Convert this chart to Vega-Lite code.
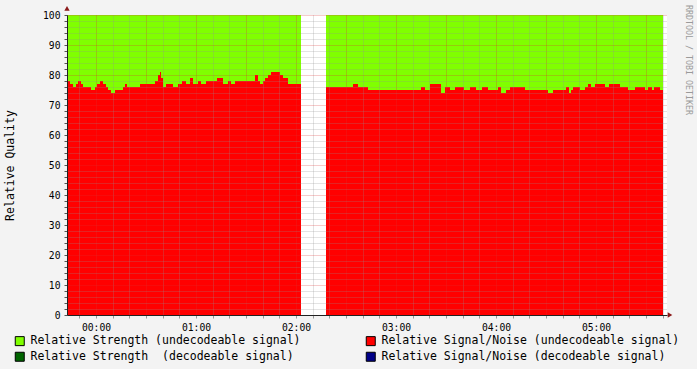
{
  "$schema": "https://vega.github.io/schema/vega-lite/v6.json",
  "width": 600,
  "height": 300,
  "autosize": {"type": "none"},
  "padding": {"left": 67, "top": 15, "right": 30, "bottom": 54},
  "background": "#f3f3f3",
  "view": {"fill": "#ffffff", "stroke": null},
  "config": {"font": "DejaVu Sans Mono"},
  "title": {"text": "RRDTOOL / TOBI OETIKER", "orient": "right", "anchor": "start", "frame": "group", "font": "DejaVu Sans Mono", "fontSize": 8.3, "fontWeight": "normal", "color": "#9a9a9a", "offset": 5, "dx": -10},
  "data": {"values": [
    {"time": "2024-01-01T23:42:36Z", "seg": 1, "strength": 100, "snr": 78},
    {"time": "2024-01-01T23:44:24Z", "seg": 1, "strength": 100, "snr": 77},
    {"time": "2024-01-01T23:46:12Z", "seg": 1, "strength": 100, "snr": 76},
    {"time": "2024-01-01T23:48:00Z", "seg": 1, "strength": 100, "snr": 77},
    {"time": "2024-01-01T23:49:12Z", "seg": 1, "strength": 100, "snr": 78},
    {"time": "2024-01-01T23:51:00Z", "seg": 1, "strength": 100, "snr": 77},
    {"time": "2024-01-01T23:52:12Z", "seg": 1, "strength": 100, "snr": 76},
    {"time": "2024-01-01T23:57:00Z", "seg": 1, "strength": 100, "snr": 75},
    {"time": "2024-01-01T23:59:24Z", "seg": 1, "strength": 100, "snr": 76},
    {"time": "2024-01-02T00:00:36Z", "seg": 1, "strength": 100, "snr": 77},
    {"time": "2024-01-02T00:02:24Z", "seg": 1, "strength": 100, "snr": 78},
    {"time": "2024-01-02T00:04:12Z", "seg": 1, "strength": 100, "snr": 77},
    {"time": "2024-01-02T00:06:00Z", "seg": 1, "strength": 100, "snr": 76},
    {"time": "2024-01-02T00:07:12Z", "seg": 1, "strength": 100, "snr": 75},
    {"time": "2024-01-02T00:09:00Z", "seg": 1, "strength": 100, "snr": 74},
    {"time": "2024-01-02T00:11:24Z", "seg": 1, "strength": 100, "snr": 75},
    {"time": "2024-01-02T00:16:12Z", "seg": 1, "strength": 100, "snr": 76},
    {"time": "2024-01-02T00:17:24Z", "seg": 1, "strength": 100, "snr": 77},
    {"time": "2024-01-02T00:18:36Z", "seg": 1, "strength": 100, "snr": 76},
    {"time": "2024-01-02T00:26:24Z", "seg": 1, "strength": 100, "snr": 77},
    {"time": "2024-01-02T00:35:24Z", "seg": 1, "strength": 100, "snr": 78},
    {"time": "2024-01-02T00:37:12Z", "seg": 1, "strength": 100, "snr": 80},
    {"time": "2024-01-02T00:38:24Z", "seg": 1, "strength": 100, "snr": 81},
    {"time": "2024-01-02T00:39:00Z", "seg": 1, "strength": 100, "snr": 79},
    {"time": "2024-01-02T00:40:12Z", "seg": 1, "strength": 100, "snr": 76},
    {"time": "2024-01-02T00:42:00Z", "seg": 1, "strength": 100, "snr": 77},
    {"time": "2024-01-02T00:46:12Z", "seg": 1, "strength": 100, "snr": 76},
    {"time": "2024-01-02T00:49:12Z", "seg": 1, "strength": 100, "snr": 77},
    {"time": "2024-01-02T00:51:36Z", "seg": 1, "strength": 100, "snr": 78},
    {"time": "2024-01-02T00:54:00Z", "seg": 1, "strength": 100, "snr": 77},
    {"time": "2024-01-02T00:56:24Z", "seg": 1, "strength": 100, "snr": 79},
    {"time": "2024-01-02T00:58:12Z", "seg": 1, "strength": 100, "snr": 77},
    {"time": "2024-01-02T01:01:12Z", "seg": 1, "strength": 100, "snr": 78},
    {"time": "2024-01-02T01:03:00Z", "seg": 1, "strength": 100, "snr": 77},
    {"time": "2024-01-02T01:06:00Z", "seg": 1, "strength": 100, "snr": 78},
    {"time": "2024-01-02T01:12:36Z", "seg": 1, "strength": 100, "snr": 79},
    {"time": "2024-01-02T01:16:12Z", "seg": 1, "strength": 100, "snr": 77},
    {"time": "2024-01-02T01:19:12Z", "seg": 1, "strength": 100, "snr": 78},
    {"time": "2024-01-02T01:21:00Z", "seg": 1, "strength": 100, "snr": 77},
    {"time": "2024-01-02T01:23:24Z", "seg": 1, "strength": 100, "snr": 78},
    {"time": "2024-01-02T01:35:24Z", "seg": 1, "strength": 100, "snr": 80},
    {"time": "2024-01-02T01:37:12Z", "seg": 1, "strength": 100, "snr": 78},
    {"time": "2024-01-02T01:38:24Z", "seg": 1, "strength": 100, "snr": 77},
    {"time": "2024-01-02T01:40:12Z", "seg": 1, "strength": 100, "snr": 78},
    {"time": "2024-01-02T01:41:24Z", "seg": 1, "strength": 100, "snr": 79},
    {"time": "2024-01-02T01:43:12Z", "seg": 1, "strength": 100, "snr": 80},
    {"time": "2024-01-02T01:45:00Z", "seg": 1, "strength": 100, "snr": 81},
    {"time": "2024-01-02T01:50:24Z", "seg": 1, "strength": 100, "snr": 80},
    {"time": "2024-01-02T01:52:12Z", "seg": 1, "strength": 100, "snr": 79},
    {"time": "2024-01-02T01:55:12Z", "seg": 1, "strength": 100, "snr": 77},
    {"time": "2024-01-02T02:03:00Z", "seg": 1, "strength": 100, "snr": 77},
    {"time": "2024-01-02T02:18:00Z", "seg": 2, "strength": 100, "snr": 76},
    {"time": "2024-01-02T02:34:12Z", "seg": 2, "strength": 100, "snr": 77},
    {"time": "2024-01-02T02:37:12Z", "seg": 2, "strength": 100, "snr": 76},
    {"time": "2024-01-02T02:43:12Z", "seg": 2, "strength": 100, "snr": 75},
    {"time": "2024-01-02T03:15:00Z", "seg": 2, "strength": 100, "snr": 76},
    {"time": "2024-01-02T03:17:24Z", "seg": 2, "strength": 100, "snr": 75},
    {"time": "2024-01-02T03:20:24Z", "seg": 2, "strength": 100, "snr": 77},
    {"time": "2024-01-02T03:27:00Z", "seg": 2, "strength": 100, "snr": 74},
    {"time": "2024-01-02T03:29:24Z", "seg": 2, "strength": 100, "snr": 76},
    {"time": "2024-01-02T03:32:24Z", "seg": 2, "strength": 100, "snr": 75},
    {"time": "2024-01-02T03:35:24Z", "seg": 2, "strength": 100, "snr": 76},
    {"time": "2024-01-02T03:40:48Z", "seg": 2, "strength": 100, "snr": 75},
    {"time": "2024-01-02T03:44:24Z", "seg": 2, "strength": 100, "snr": 76},
    {"time": "2024-01-02T03:48:00Z", "seg": 2, "strength": 100, "snr": 75},
    {"time": "2024-01-02T03:51:36Z", "seg": 2, "strength": 100, "snr": 76},
    {"time": "2024-01-02T03:55:12Z", "seg": 2, "strength": 100, "snr": 75},
    {"time": "2024-01-02T04:01:12Z", "seg": 2, "strength": 100, "snr": 76},
    {"time": "2024-01-02T04:03:00Z", "seg": 2, "strength": 100, "snr": 74},
    {"time": "2024-01-02T04:06:00Z", "seg": 2, "strength": 100, "snr": 75},
    {"time": "2024-01-02T04:08:24Z", "seg": 2, "strength": 100, "snr": 76},
    {"time": "2024-01-02T04:17:24Z", "seg": 2, "strength": 100, "snr": 75},
    {"time": "2024-01-02T04:31:12Z", "seg": 2, "strength": 100, "snr": 74},
    {"time": "2024-01-02T04:34:12Z", "seg": 2, "strength": 100, "snr": 75},
    {"time": "2024-01-02T04:42:00Z", "seg": 2, "strength": 100, "snr": 76},
    {"time": "2024-01-02T04:43:48Z", "seg": 2, "strength": 100, "snr": 74},
    {"time": "2024-01-02T04:45:00Z", "seg": 2, "strength": 100, "snr": 75},
    {"time": "2024-01-02T04:46:12Z", "seg": 2, "strength": 100, "snr": 76},
    {"time": "2024-01-02T04:50:24Z", "seg": 2, "strength": 100, "snr": 75},
    {"time": "2024-01-02T04:53:24Z", "seg": 2, "strength": 100, "snr": 76},
    {"time": "2024-01-02T04:55:12Z", "seg": 2, "strength": 100, "snr": 77},
    {"time": "2024-01-02T04:57:00Z", "seg": 2, "strength": 100, "snr": 76},
    {"time": "2024-01-02T04:59:24Z", "seg": 2, "strength": 100, "snr": 77},
    {"time": "2024-01-02T05:05:24Z", "seg": 2, "strength": 100, "snr": 76},
    {"time": "2024-01-02T05:07:48Z", "seg": 2, "strength": 100, "snr": 77},
    {"time": "2024-01-02T05:14:24Z", "seg": 2, "strength": 100, "snr": 76},
    {"time": "2024-01-02T05:19:12Z", "seg": 2, "strength": 100, "snr": 75},
    {"time": "2024-01-02T05:23:24Z", "seg": 2, "strength": 100, "snr": 76},
    {"time": "2024-01-02T05:29:24Z", "seg": 2, "strength": 100, "snr": 75},
    {"time": "2024-01-02T05:31:12Z", "seg": 2, "strength": 100, "snr": 76},
    {"time": "2024-01-02T05:33:36Z", "seg": 2, "strength": 100, "snr": 75},
    {"time": "2024-01-02T05:34:48Z", "seg": 2, "strength": 100, "snr": 76},
    {"time": "2024-01-02T05:38:24Z", "seg": 2, "strength": 100, "snr": 75},
    {"time": "2024-01-02T05:40:12Z", "seg": 2, "strength": 100, "snr": 75}
  ]},
  "encoding": {
    "x": {
      "field": "time",
      "type": "temporal",
      "scale": {"type": "utc", "domain": [1704152556000, 1704174156000]},
      "axis": {
        "title": null,
        "values": [1704153000000, 1704153600000, 1704154200000, 1704154800000, 1704155400000, 1704156000000, 1704156600000, 1704157200000, 1704157800000, 1704158400000, 1704159000000, 1704159600000, 1704160200000, 1704160800000, 1704161400000, 1704162000000, 1704162600000, 1704163200000, 1704163800000, 1704164400000, 1704165000000, 1704165600000, 1704166200000, 1704166800000, 1704167400000, 1704168000000, 1704168600000, 1704169200000, 1704169800000, 1704170400000, 1704171000000, 1704171600000, 1704172200000, 1704172800000, 1704173400000, 1704174000000],
        "labelExpr": "utcminutes(datum.value) === 0 ? utcFormat(datum.value, '%H:%M') : ''",
        "labelOverlap": false,
        "labelFlush": false,
        "labelBound": false,
        "grid": true,
        "gridColor": {"condition": {"test": "utcminutes(datum.value) % 30 === 0", "value": "#de3131"}, "value": "#8f8f8f"},
        "gridOpacity": 0.5,
        "gridDash": [1, 1],
        "domainColor": "#222222",
        "tickColor": "#999999",
        "tickSize": 3,
        "labelFont": "DejaVu Sans Mono",
        "labelFontSize": 9.7,
        "labelColor": "#000000",
        "labelPadding": 4,
        "zindex": 1
      }
    },
    "detail": {"field": "seg", "type": "nominal"}
  },
  "layer": [
    {
      "mark": {"type": "area", "interpolate": "step-after", "opacity": 1},
      "encoding": {
        "y": {
          "field": "strength",
          "type": "quantitative",
          "stack": null,
          "title": "Relative Quality",
          "scale": {"domain": [0, 100], "nice": false},
          "axis": {
            "values": [0, 2, 4, 6, 8, 10, 12, 14, 16, 18, 20, 22, 24, 26, 28, 30, 32, 34, 36, 38, 40, 42, 44, 46, 48, 50, 52, 54, 56, 58, 60, 62, 64, 66, 68, 70, 72, 74, 76, 78, 80, 82, 84, 86, 88, 90, 92, 94, 96, 98, 100],
            "labelExpr": "datum.value % 10 === 0 ? datum.label : ''",
            "labelOverlap": false,
            "grid": true,
            "gridColor": {"condition": {"test": "datum.value % 10 === 0", "value": "#de3131"}, "value": "#8f8f8f"},
            "gridOpacity": 0.5,
            "gridDash": [1, 1],
            "domainColor": "#222222",
            "tickColor": "#555555",
            "tickSize": 3,
            "labelFont": "DejaVu Sans Mono",
            "labelFontSize": 9.7,
            "labelColor": "#000000",
            "labelPadding": 4,
            "titleFont": "DejaVu Sans Mono",
            "titleFontSize": 11.5,
            "titleFontWeight": "normal",
            "titleColor": "#000000",
            "titlePadding": 27,
            "zindex": 1
          }
        },
        "color": {
          "datum": "Relative Strength (undecodeable signal)",
          "scale": {
            "domain": ["Relative Strength (undecodeable signal)", "Relative Strength \u00a0(decodeable signal)", "Relative Signal/Noise (undecodeable signal)", "Relative Signal/Noise (decodeable signal)"],
            "range": ["#80ff00", "#006400", "#ff0000", "#000088"]
          },
          "legend": {
            "orient": "none",
            "legendX": -53,
            "legendY": 320,
            "columns": 2,
            "columnPadding": 63,
            "rowPadding": 2,
            "padding": 0,
            "title": null,
            "symbolType": "square",
            "symbolSize": 81,
            "symbolStrokeColor": "#000000",
            "symbolStrokeWidth": 1,
            "symbolOpacity": 1,
            "labelFont": "DejaVu Sans Mono",
            "labelFontSize": 11.5,
            "labelColor": "#000000",
            "labelOffset": 5,
            "labelLimit": 400
          }
        }
      }
    },
    {
      "mark": {"type": "area", "interpolate": "step-after", "opacity": 1},
      "encoding": {
        "y": {
          "field": "snr",
          "type": "quantitative",
          "stack": null,
          "title": "Relative Quality",
          "scale": {"domain": [0, 100], "nice": false},
          "axis": {
            "values": [0, 2, 4, 6, 8, 10, 12, 14, 16, 18, 20, 22, 24, 26, 28, 30, 32, 34, 36, 38, 40, 42, 44, 46, 48, 50, 52, 54, 56, 58, 60, 62, 64, 66, 68, 70, 72, 74, 76, 78, 80, 82, 84, 86, 88, 90, 92, 94, 96, 98, 100],
            "labelExpr": "datum.value % 10 === 0 ? datum.label : ''",
            "labelOverlap": false,
            "grid": true,
            "gridColor": {"condition": {"test": "datum.value % 10 === 0", "value": "#de3131"}, "value": "#8f8f8f"},
            "gridOpacity": 0.5,
            "gridDash": [1, 1],
            "domainColor": "#222222",
            "tickColor": "#555555",
            "tickSize": 3,
            "labelFont": "DejaVu Sans Mono",
            "labelFontSize": 9.7,
            "labelColor": "#000000",
            "labelPadding": 4,
            "titleFont": "DejaVu Sans Mono",
            "titleFontSize": 11.5,
            "titleFontWeight": "normal",
            "titleColor": "#000000",
            "titlePadding": 27,
            "zindex": 1
          }
        },
        "color": {"datum": "Relative Signal/Noise (undecodeable signal)"}
      }
    },
    {
      "data": {"values": [
        {"time": "2024-01-01T23:42:36Z", "level": 102.2, "arrow": "triangle-up"},
        {"time": "2024-01-02T05:44:24Z", "level": 0, "arrow": "triangle-right"}
      ]},
      "mark": {"type": "point", "filled": true, "opacity": 1, "size": 28, "color": "#8b1a1a", "strokeWidth": 0},
      "encoding": {
        "shape": {"field": "arrow", "type": "nominal", "scale": {"domain": ["triangle-up", "triangle-right"], "range": ["triangle-up", "triangle-right"]}, "legend": null},
        "detail": null,
        "y": {
          "field": "level",
          "type": "quantitative",
          "stack": null,
          "title": "Relative Quality",
          "scale": {"domain": [0, 100], "nice": false},
          "axis": {
            "values": [0, 2, 4, 6, 8, 10, 12, 14, 16, 18, 20, 22, 24, 26, 28, 30, 32, 34, 36, 38, 40, 42, 44, 46, 48, 50, 52, 54, 56, 58, 60, 62, 64, 66, 68, 70, 72, 74, 76, 78, 80, 82, 84, 86, 88, 90, 92, 94, 96, 98, 100],
            "labelExpr": "datum.value % 10 === 0 ? datum.label : ''",
            "labelOverlap": false,
            "grid": true,
            "gridColor": {"condition": {"test": "datum.value % 10 === 0", "value": "#de3131"}, "value": "#8f8f8f"},
            "gridOpacity": 0.5,
            "gridDash": [1, 1],
            "domainColor": "#222222",
            "tickColor": "#555555",
            "tickSize": 3,
            "labelFont": "DejaVu Sans Mono",
            "labelFontSize": 9.7,
            "labelColor": "#000000",
            "labelPadding": 4,
            "titleFont": "DejaVu Sans Mono",
            "titleFontSize": 11.5,
            "titleFontWeight": "normal",
            "titleColor": "#000000",
            "titlePadding": 27,
            "zindex": 1
          }
        }
      }
    }
  ]
}
